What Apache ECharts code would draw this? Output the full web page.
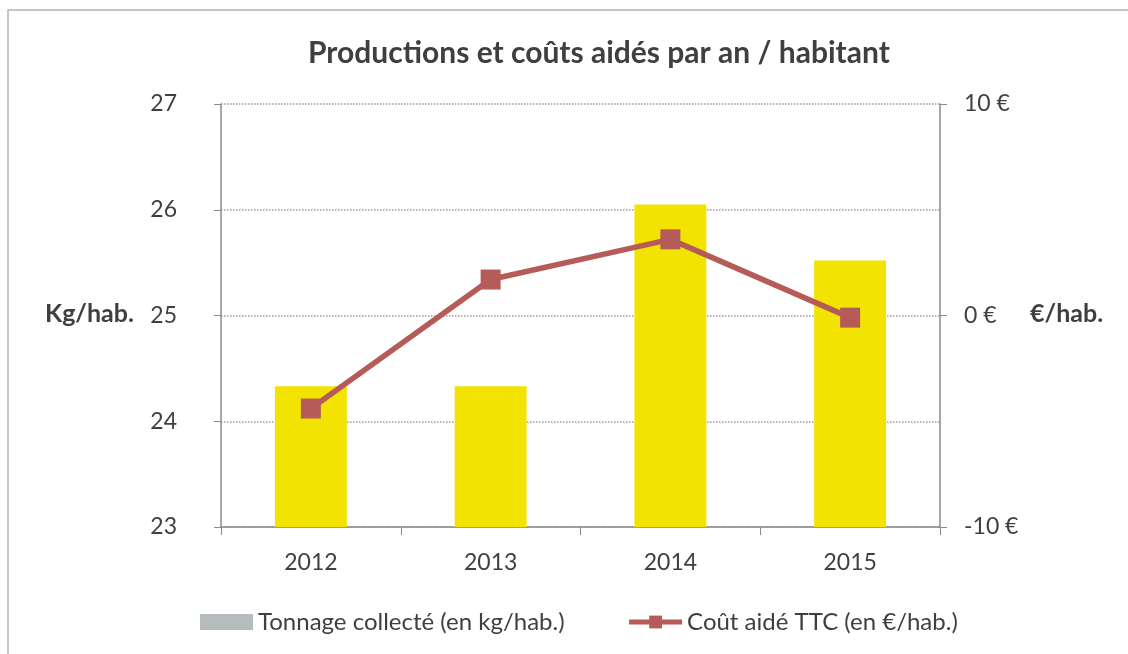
<!DOCTYPE html>
<html>
<head>
    <meta charset="UTF-8">
    <title>Productions et coûts aidés</title>
    <script type="text/javascript" src="https://cdn.jsdelivr.net/npm/echarts@6/dist/echarts.min.js"></script>
    <style>
        html, body { margin: 0; padding: 0; background: #fff; }
    </style>
</head>
<body>
    <div id="main" style="width: 1128px;height:654px;"></div>
    <script type="text/javascript">
        // données
        var annees = ['2012', '2013', '2014', '2015'];
        var tonnage = [24.33, 24.33, 26.05, 25.52];   // kg/hab.
        var cout = [-4.4, 1.7, 3.6, -0.1];            // €/hab.

        var police = 'Lato, "Open Sans", sans-serif';
        var gris = '#3f3f3f';

        var myChart = echarts.init(document.getElementById('main'));

        option = {
            backgroundColor: '#fff',
            textStyle: { fontFamily: police },
            graphic: [
                {
                    type: 'rect',
                    shape: { x: 8, y: 10, width: 1300, height: 800 },
                    style: { fill: 'none', stroke: '#b4b4b4', lineWidth: 1.5 },
                    silent: true
                },
                {
                    type: 'text',
                    left: 308, top: 38,
                    style: {
                        text: 'Productions et coûts aidés par an / habitant',
                        font: 'bold 30px ' + police,
                        fill: gris
                    }
                },
                {
                    type: 'text',
                    left: 45, top: 301,
                    style: { text: 'Kg/hab.', font: 'bold 25px ' + police, fill: gris }
                },
                {
                    type: 'text',
                    left: 1030, top: 301,
                    style: { text: '€/hab.', font: 'bold 25px ' + police, fill: gris }
                }
            ],
            legend: {
                left: 195,
                top: 605,
                itemWidth: 53,
                itemHeight: 16,
                itemGap: 62,
                textStyle: { fontSize: 24, color: gris, fontFamily: police },
                data: [
                    { name: 'Tonnage collecté (en kg/hab.)', icon: 'rect', itemStyle: { color: '#b6bcbd' } },
                    { name: 'Coût aidé TTC (en €/hab.)', lineStyle: { width: 5 } }
                ]
            },
            grid: {
                left: 221,
                right: 188,
                top: 104,
                bottom: 127
            },
            xAxis: {
                type: 'category',
                data: annees,
                axisLine: { onZero: false, lineStyle: { color: '#8a8a8a', width: 1.5 } },
                axisTick: { show: true, length: 8, lineStyle: { color: '#8a8a8a' } },
                axisLabel: { fontSize: 23, color: gris, margin: 24 }
            },
            yAxis: [
                {
                    type: 'value',
                    min: 23,
                    max: 27,
                    interval: 1,
                    axisLine: { show: true, lineStyle: { color: '#8a8a8a', width: 1.5 } },
                    axisTick: { show: true, length: 7, lineStyle: { color: '#8a8a8a' } },
                    axisLabel: { fontSize: 23, color: gris, margin: 44 },
                    splitLine: { show: true, lineStyle: { type: 'dotted', color: '#9a9a9a', width: 1.5 } }
                },
                {
                    type: 'value',
                    min: -10,
                    max: 10,
                    interval: 10,
                    position: 'right',
                    axisLine: { show: true, lineStyle: { color: '#8a8a8a', width: 1.5 } },
                    axisTick: { show: true, length: 7, lineStyle: { color: '#8a8a8a' } },
                    axisLabel: { fontSize: 23, color: gris, margin: 24, formatter: '{value} €' },
                    splitLine: { show: false }
                }
            ],
            series: [
                {
                    name: 'Tonnage collecté (en kg/hab.)',
                    type: 'bar',
                    yAxisIndex: 0,
                    barWidth: '40%',
                    itemStyle: { color: '#f3e300' },
                    data: tonnage
                },
                {
                    name: 'Coût aidé TTC (en €/hab.)',
                    type: 'line',
                    yAxisIndex: 1,
                    symbol: 'rect',
                    symbolSize: 20,
                    itemStyle: { color: '#b55c58' },
                    lineStyle: { color: '#b55c58', width: 5.5 },
                    data: cout
                }
            ]
        };

        myChart.setOption(option);
    </script>
</body>
</html>
